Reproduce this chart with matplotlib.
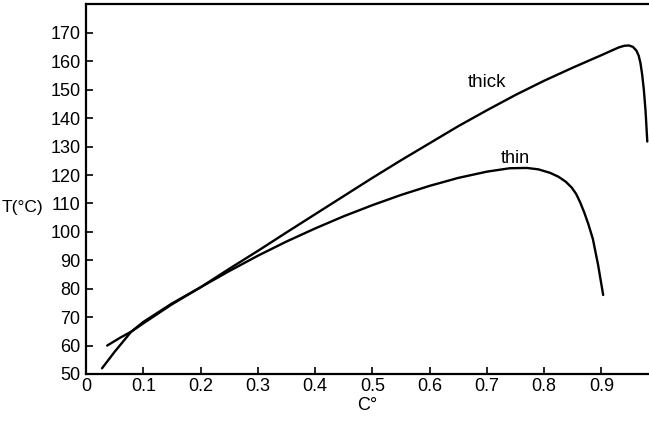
import matplotlib
matplotlib.use("Agg")
import matplotlib.pyplot as plt

# Werte
c_thick = [0.028, 0.05, 0.079, 0.10, 0.15, 0.20, 0.25, 0.30, 0.35, 0.40, 0.45, 0.50,
           0.55, 0.60, 0.65, 0.70, 0.75, 0.80, 0.85, 0.90, 0.92, 0.93, 0.940, 0.948,
           0.955, 0.961, 0.965, 0.968, 0.971, 0.974, 0.977, 0.980]
t_thick = [52.0, 57.8, 64.9, 68.3, 74.8, 80.5, 87.0, 93.3, 99.8, 106.2, 112.6, 119.0,
           125.2, 131.2, 137.2, 142.8, 148.2, 153.2, 157.8, 162.2, 164.0, 164.9, 165.5, 165.6,
           165.1, 163.8, 162.0, 159.5, 155.5, 150.0, 142.5, 131.8]

c_thin = [0.037, 0.06, 0.08, 0.10, 0.15, 0.20, 0.25, 0.30, 0.35, 0.40, 0.45, 0.50,
          0.55, 0.60, 0.65, 0.70, 0.74, 0.77, 0.79, 0.81, 0.825, 0.838, 0.848,
          0.856, 0.863, 0.870, 0.877, 0.885, 0.894, 0.903]
t_thin = [60.0, 62.8, 65.0, 67.8, 74.5, 80.5, 86.2, 91.6, 96.6, 101.2, 105.5, 109.4,
          113.0, 116.2, 119.0, 121.2, 122.4, 122.5, 122.0, 120.8, 119.4, 117.6, 115.6,
          113.3, 110.3, 106.8, 102.8, 97.5, 88.5, 77.8]

x_ticks = [0, 0.1, 0.2, 0.3, 0.4, 0.5, 0.6, 0.7, 0.8, 0.9]
x_labels = ["0", "0.1", "0.2", "0.3", "0.4", "0.5", "0.6", "0.7", "0.8", "0.9"]
y_ticks = list(range(50, 171, 10))

plt.rcParams["font.family"] = ["Liberation Sans", "DejaVu Sans"]

fig = plt.figure(figsize=(6.49, 4.24), dpi=100)
ax = fig.add_axes([0.1325, 0.118, 0.8675, 0.8726])

ax.plot(c_thick, t_thick, color="black", lw=1.7, solid_capstyle="round",
        solid_joinstyle="round")
ax.plot(c_thin, t_thin, color="black", lw=1.7, solid_capstyle="round",
        solid_joinstyle="round")

ax.text(0.70, 152.4, "thick", fontsize=13.5, ha="center", va="center")
ax.text(0.749, 126.0, "thin", fontsize=13, ha="center", va="center")

ax.set_xlim(0, 0.983)
ax.set_ylim(50, 180.2)
ax.set_xticks(x_ticks)
ax.set_xticklabels(x_labels)
ax.set_yticks(y_ticks)
ax.tick_params(direction="in", length=5, width=1.2, labelsize=13, colors="black")
ax.tick_params(axis="x", pad=3)
ax.tick_params(axis="y", pad=4)

ax.spines["right"].set_visible(False)
for s in ["left", "bottom", "top"]:
    ax.spines[s].set_linewidth(1.6)

ax.set_xlabel("C°", fontsize=13, labelpad=1)
ax.set_ylabel("T(°C)", fontsize=12.5, rotation=0)
ax.yaxis.set_label_coords(-0.112, 0.43)

fig.savefig("out.png", dpi=100)
